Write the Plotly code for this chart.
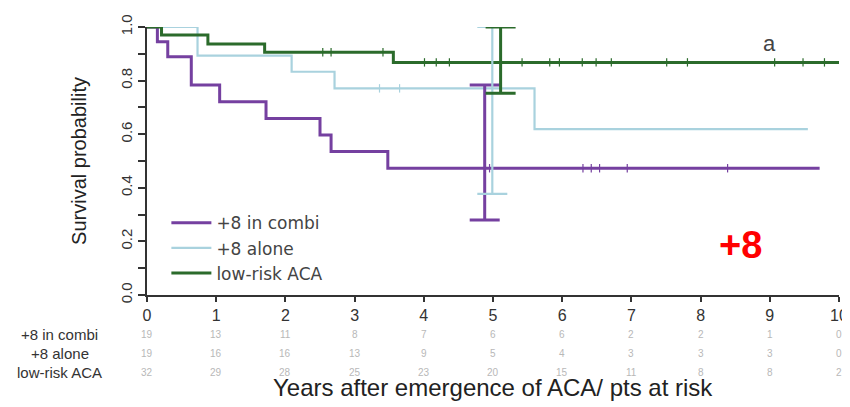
import plotly.graph_objects as go
import numpy as np

# ---- data ----
combi_t = [0, 0.15, 0.30, 0.64, 1.05, 1.72, 2.50, 2.66, 3.48, 9.72]
combi_s = [1.0, 0.945, 0.889, 0.784, 0.721, 0.659, 0.597, 0.535, 0.473, 0.473]
combi_cens = [4.95, 6.30, 6.42, 6.54, 6.94, 8.39]

alone_t = [0, 0.73, 2.09, 2.71, 5.60, 9.55]
alone_s = [1.0, 0.893, 0.833, 0.771, 0.619, 0.619]
alone_cens = [3.36, 3.65]

low_t = [0, 0.21, 0.88, 1.70, 3.56, 10.0]
low_s = [1.0, 0.970, 0.937, 0.906, 0.868, 0.868]
low_cens = [2.54, 2.66, 3.41, 4.01, 4.18, 4.37, 5.42, 5.82, 5.96, 6.29, 6.49,
            6.71, 7.51, 7.81, 9.07, 9.48, 9.79]

# 5-year confidence intervals: x position, estimate, upper, lower
ci_x = {"combi": 4.88, "alone": 4.99, "low": 5.11}
ci_est = {"combi": 0.473, "alone": 0.771, "low": 0.868}
ci_up = {"combi": 0.784, "alone": 1.0, "low": 1.0}
ci_lo = {"combi": 0.28, "alone": 0.377, "low": 0.753}

# risk table
risk_years = list(range(11))
risk_combi = [19, 13, 11, 8, 7, 6, 6, 2, 2, 1, 0]
risk_alone = [19, 16, 16, 13, 9, 5, 4, 3, 3, 3, 0]
risk_low = [32, 29, 28, 25, 23, 20, 15, 11, 8, 8, 2]
group_names = ["+8 in combi", "+8 alone", "low-risk ACA"]

C_PURPLE = "#7540a0"
C_BLUE = "#a9d2de"
C_GREEN = "#2b6b2b"
FONT = "Liberation Sans, Arial"


def step_value(ts, ss, t):
    idx = np.searchsorted(ts, t, side="right") - 1
    return ss[max(idx, 0)]


fig = go.Figure()

groups = [
    ("combi", group_names[0], combi_t, combi_s, combi_cens, C_PURPLE, 3),
    ("alone", group_names[1], alone_t, alone_s, alone_cens, C_BLUE, 2.2),
    ("low", group_names[2], low_t, low_s, low_cens, C_GREEN, 3),
]

for key, name, ts, ss, cens, col, w in groups:
    fig.add_trace(go.Scatter(
        x=ts, y=ss, mode="lines", line=dict(color=col, width=w, shape="hv"),
        name=name, cliponaxis=False))
    fig.add_trace(go.Scatter(
        x=cens, y=[step_value(ts, ss, c) for c in cens], mode="markers",
        marker=dict(symbol="line-ns", size=6, line=dict(color=col, width=1.2)),
        showlegend=False, cliponaxis=False, hoverinfo="skip"))

for key, name, ts, ss, cens, col, w in groups:
    fig.add_trace(go.Scatter(
        x=[ci_x[key]], y=[ci_est[key]], mode="markers",
        marker=dict(size=1, color="rgba(0,0,0,0)"),
        error_y=dict(type="data", symmetric=False,
                     array=[ci_up[key] - ci_est[key]],
                     arrayminus=[ci_est[key] - ci_lo[key]],
                     color=col, thickness=w, width=15),
        showlegend=False, cliponaxis=False, hoverinfo="skip"))

annotations = []
row_y = [-0.149, -0.220, -0.291]
for name, counts, ry in zip(group_names, [risk_combi, risk_alone, risk_low], row_y):
    annotations.append(dict(x=-0.126, y=ry, xref="paper", yref="paper",
                            text=name, showarrow=False, xanchor="center",
                            yanchor="middle",
                            font=dict(size=15, color="#333333", family=FONT)))
    for yr, n in zip(risk_years, counts):
        annotations.append(dict(x=yr, y=ry, xref="x", yref="paper", text=str(n),
                                showarrow=False, xanchor="center", yanchor="middle",
                                font=dict(size=10, color="#b8b8b8", family=FONT)))

annotations.append(dict(x=0.899, y=0.94, xref="paper", yref="paper", text="a",
                        showarrow=False, xanchor="center", yanchor="middle",
                        font=dict(size=22, color="#444444", family=FONT)))
annotations.append(dict(x=0.858, y=0.187, xref="paper", yref="paper", text="<b>+8</b>",
                        showarrow=False, xanchor="center", yanchor="middle",
                        font=dict(size=38, color="#ff0000", family=FONT)))
annotations.append(dict(x=0.5, y=-0.347, xref="paper", yref="paper",
                        text="Years after emergence of ACA/ pts at risk",
                        showarrow=False, xanchor="center", yanchor="middle",
                        font=dict(size=24, color="#222222", family=FONT)))
annotations.append(dict(x=-0.0984, y=0.5, xref="paper", yref="paper",
                        text="Survival probability", textangle=-90,
                        showarrow=False, xanchor="center", yanchor="middle",
                        font=dict(size=20, color="#222222", family=FONT)))

# the page places the figure 8px in from the top-left corner
fig.update_layout(
    width=842, height=399,
    margin=dict(l=139, r=11, t=19, b=112, autoexpand=False),
    paper_bgcolor="white", plot_bgcolor="white",
    font=dict(family=FONT, color="#333333"),
    showlegend=True,
    legend=dict(x=0.028, y=0.335, xanchor="left", yanchor="top",
                itemwidth=40,
                bgcolor="rgba(0,0,0,0)",
                font=dict(size=17, color="#444444", family="DejaVu Sans")),
    annotations=annotations,
    xaxis=dict(range=[0, 10], dtick=1, tick0=0, showgrid=False, zeroline=False,
               automargin=False,
               showline=True, linecolor="#333333", linewidth=1.5,
               ticks="outside", ticklen=5, tickwidth=1.5, tickcolor="#333333",
               tickfont=dict(size=16, color="#333333")),
    yaxis=dict(range=[0, 1], dtick=0.2, tick0=0, tickformat=".1f",
               showgrid=False, zeroline=False, automargin=False,
               showline=True, linecolor="#333333", linewidth=1.5,
               ticks="outside", ticklen=7, tickwidth=1.5, tickcolor="#333333",
               tickangle=-90,
               tickfont=dict(size=15, color="#333333"),
               minor=dict(dtick=0.1, ticks="outside", ticklen=7,
                          tickwidth=1.5, tickcolor="#333333")),
)

fig.write_html("out.html")
